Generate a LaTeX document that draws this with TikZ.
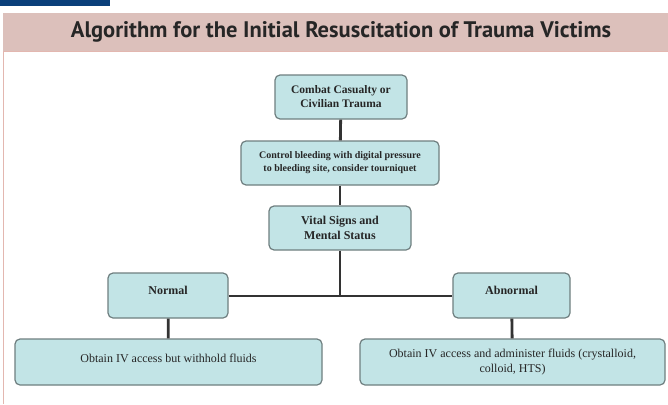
\documentclass[tikz,border=0pt]{standalone}
\usepackage{fontspec}
\setmainfont{Liberation Serif}
\newfontfamily\titlefont{PT Sans}
\definecolor{barblue}{HTML}{0B3F7A}
\definecolor{bandpink}{HTML}{DCC0BB}
\definecolor{edgepink}{HTML}{E3B7B0}
\definecolor{boxfill}{HTML}{C2E4E6}
\definecolor{boxedge}{HTML}{6F7F80}
\definecolor{linkcol}{HTML}{333333}
\tikzset{
  box/.style={draw=boxedge, line width=1.2pt, fill=boxfill, rounded corners=5pt,
    minimum height=44pt, align=center, inner sep=2pt, text=black!85},
  link/.style={draw=linkcol, line width=2.8pt}
}
\begin{document}
\begin{tikzpicture}[x=1pt,y=-1pt]
\useasboundingbox (0,0) rectangle (668,404);
\fill[white] (0,0) rectangle (668,404);
% header
\fill[barblue] (0,0) rectangle (110,6);
\fill[bandpink] (3,13) rectangle (668,51);
\draw[edgepink, line width=1pt] (3.5,404) -- (3.5,51.5) -- (668,51.5);
\node[font=\titlefont\bfseries\fontsize{22.5}{25}\selectfont, text=black!85] (title) at (341,32) {Algorithm for the Initial Resuscitation of Trauma Victims};
% nodes
\node[box, minimum width=132pt, font=\bfseries\fontsize{11.5}{14}\selectfont] (top) at (341,97) {Combat Casualty or\\Civilian Trauma};
\node[box, minimum width=198pt, font=\bfseries\fontsize{10}{13}\selectfont] (ctrl) at (340,163) {Control bleeding with digital pressure\\to bleeding site, consider tourniquet};
\node[box, minimum width=142pt, font=\bfseries\fontsize{12}{15}\selectfont] (vital) at (340,228) {Vital Signs and\\Mental Status};
\node[box, minimum width=120pt, minimum height=45pt, text depth=10pt, font=\bfseries\fontsize{12}{15}\selectfont] (normal) at (168,295.5) {Normal};
\node[box, minimum width=117pt, minimum height=45pt, text depth=10pt, font=\bfseries\fontsize{12}{15}\selectfont] (abn) at (511.5,295.5) {Abnormal};
\node[box, minimum width=307pt, minimum height=46pt, text depth=7pt, font=\fontsize{12}{15}\selectfont] (obl) at (168.5,362) {Obtain IV access but withhold fluids};
\node[box, minimum width=305pt, minimum height=46pt, font=\fontsize{12}{15}\selectfont] (obr) at (512.5,362) {Obtain IV access and administer fluids (crystalloid,\\colloid, HTS)};
% connectors
\coordinate (j) at (340,296);
\draw[link] (top) -- (ctrl);
\draw[link] (ctrl) -- (vital);
\draw[link] (vital) -- (j);
\draw[link] (normal.east |- j) -- (abn.west |- j);
\draw[link] (normal) -- (obl);
\draw[link] (abn) -- (obr);
\end{tikzpicture}
\end{document}
